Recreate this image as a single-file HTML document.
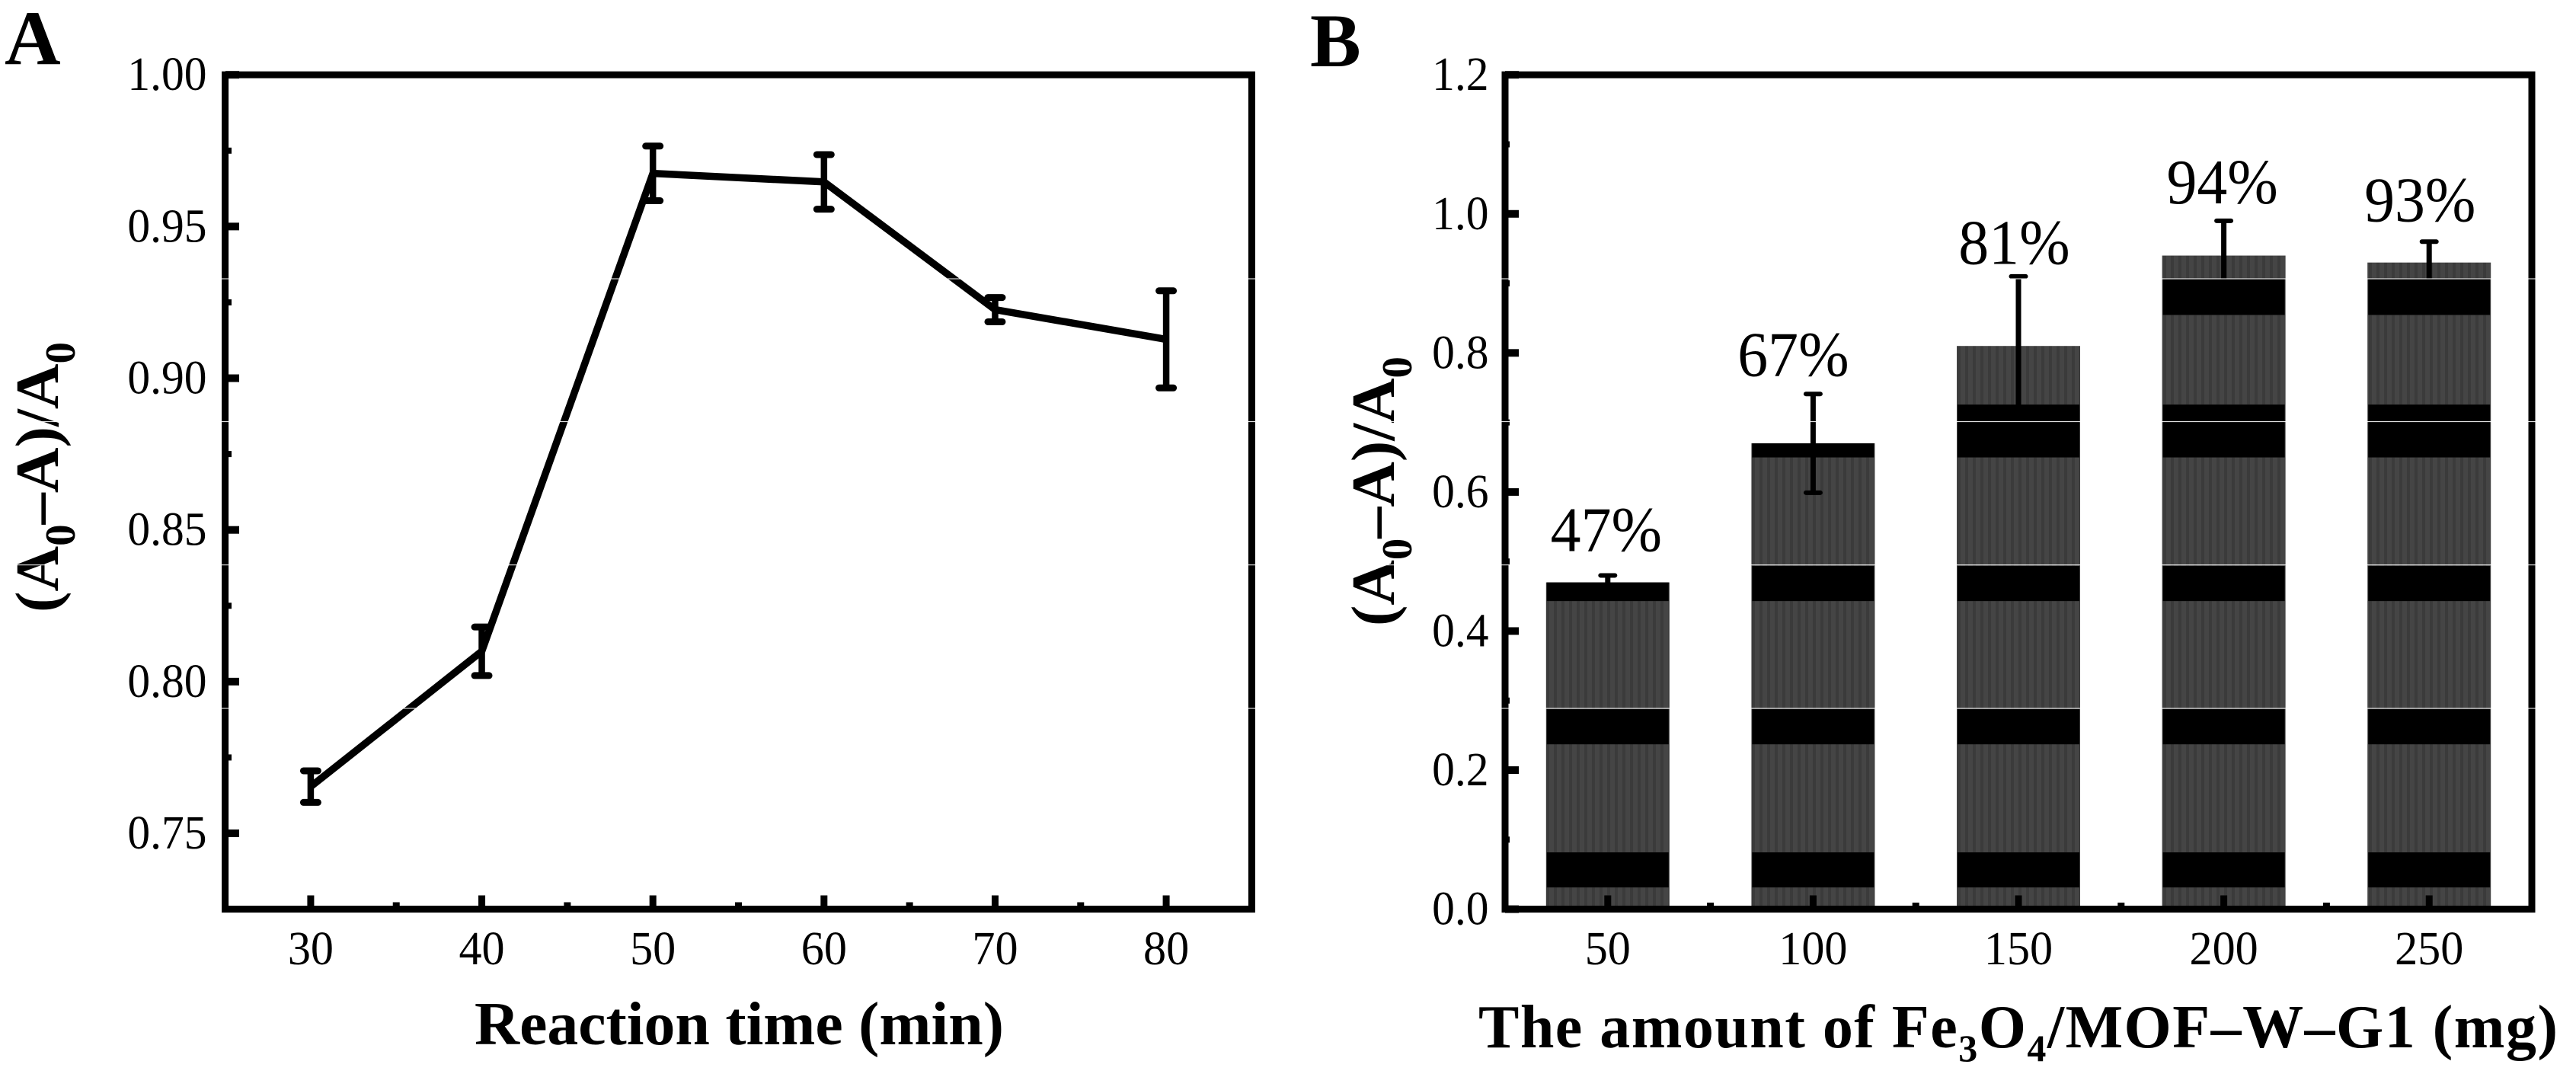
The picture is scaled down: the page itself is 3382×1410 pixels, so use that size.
<!DOCTYPE html>
<html lang="en">
<head>
<meta charset="utf-8">
<title>Reaction time and adsorbent amount charts</title>
<style>
html,body{margin:0;padding:0;background:#fff;width:3382px;height:1410px;overflow:hidden}
svg{display:block;position:absolute;left:0;top:0}
text{font-family:"Liberation Serif",serif;fill:#000}
.b{font-weight:bold}
</style>
</head>
<body>
<svg id="fig" xmlns="http://www.w3.org/2000/svg" width="3382" height="1410" viewBox="0 0 3382 1410">
  <defs>
    <pattern id="stripes" patternUnits="userSpaceOnUse" width="10" height="10">
      <rect width="10" height="10" fill="#454545"></rect>
      <rect x="0" width="4" height="10" fill="#3b3b3b"></rect>
    </pattern>
  </defs>
  <rect width="3382" height="1410" fill="#fff"></rect>
  <g id="bars-layer"></g>
  <g id="marks-layer"></g>
  <rect x="295.6" y="98.2" width="1347.8" height="1095.4" fill="none" stroke="#000" stroke-width="9"></rect>
  <rect x="1976" y="98.2" width="1348" height="1095.4" fill="none" stroke="#000" stroke-width="9"></rect>
  <g id="ticks-layer"></g>

  <text class="b" x="6" y="84" font-size="102">A</text>
  <text class="b" x="1720" y="87" font-size="100">B</text>

  <text class="b" x="623" y="1371" font-size="81" textLength="695" lengthAdjust="spacingAndGlyphs">Reaction time (min)</text>
  <text class="b" transform="translate(76,804) rotate(-90)" font-size="81" textLength="355" lengthAdjust="spacingAndGlyphs">(A<tspan font-size="56" dy="22">0</tspan><tspan dy="-22">–A)/A</tspan><tspan font-size="56" dy="22">0</tspan></text>

  <text class="b" x="1941" y="1375" font-size="80" textLength="1417" lengthAdjust="spacing">The amount of Fe<tspan font-size="50" dy="18">3</tspan><tspan dy="-18">O</tspan><tspan font-size="50" dy="18">4</tspan><tspan dy="-18">/MOF–W–G1 (mg)</tspan></text>
  <text class="b" transform="translate(1830,822) rotate(-90)" font-size="81" textLength="354" lengthAdjust="spacingAndGlyphs">(A<tspan font-size="56" dy="23">0</tspan><tspan dy="-23">–A)/A</tspan><tspan font-size="56" dy="23">0</tspan></text>
  <g id="labels-layer"></g>
  <g id="seams-layer"></g>
</svg>
<script>
// Panel A data
var timeCategories = [30, 40, 50, 60, 70, 80];
var timeValues = [0.7654, 0.810, 0.9675, 0.9647, 0.9226, 0.9128];
var timeErrors = [0.0052, 0.008, 0.009, 0.009, 0.004, 0.016];
var timeXTicks = ['30', '40', '50', '60', '70', '80'];
var timeXMinor = [35, 45, 55, 65, 75];
var timeYTicks = ['0.75', '0.80', '0.85', '0.90', '0.95', '1.00'];
var timeYMinor = [0.775, 0.825, 0.875, 0.925, 0.975];

// Panel B data
var amountCategories = [50, 100, 150, 200, 250];
var amountValues = [0.47, 0.67, 0.81, 0.94, 0.93];
var amountErrors = [0.01, 0.071, 0.10, 0.05, 0.03];
var amountLabels = ['47%', '67%', '81%', '94%', '93%'];
var amountXMinor = [75, 125, 175, 225];
var amountYTicks = ['0.0', '0.2', '0.4', '0.6', '0.8', '1.0', '1.2'];
var amountYMinor = [0.1, 0.3, 0.5, 0.7, 0.9, 1.1];
var bandStarts = [0.0313, 0.2371, 0.4431, 0.6497, 0.8546];
var bandEnds = [0.0817, 0.2876, 0.4935, 0.7257, 0.906];

// Layout only (label nudges in pixels, seam rows in pixels)
var percentNudgeX = [-2, -26, -5.6, -2, -12];
var percentGap = [32, 23.5, 16.5, 23, 27];
var seamRows = [366, 553.6, 741.7, 930];

var NS = 'http://www.w3.org/2000/svg';
function xA(v) { return 295.6 + (v - 25) / 60 * 1347.8; }
function yA(v) { return 98.2 + (1 - v) / 0.275 * 1095.4; }
function xB(v) { return 1976 + (v - 25) / 250 * 1348; }
function yB(v) { return 1193.6 - v / 1.2 * 1095.4; }

function make(tag, parent, attrs) {
  var el = document.createElementNS(NS, tag);
  for (var k in attrs) { el.setAttribute(k, attrs[k]); }
  parent.appendChild(el);
  return el;
}
function centeredRect(parent, cx, top, w, h, fill, rx) {
  return make('rect', parent, { x: cx - w / 2, y: top, width: w, height: h, fill: fill, rx: rx || 0 });
}
function write(parent, str, x, y, anchor, size, sx) {
  var el = make('text', parent, {
    transform: 'translate(' + x + ',' + y + ') scale(' + sx + ',1)',
    'text-anchor': anchor,
    'font-size': size
  });
  el.textContent = str;
  return el;
}

var barsLayer = document.getElementById('bars-layer');
var marksLayer = document.getElementById('marks-layer');
var ticksLayer = document.getElementById('ticks-layer');
var labelsLayer = document.getElementById('labels-layer');
var seamsLayer = document.getElementById('seams-layer');

// Panel A line
var linePoints = timeCategories.map(function (c, i) { return xA(c) + ',' + yA(timeValues[i]); }).join(' ');
var seriesLine = make('polyline', marksLayer, { points: linePoints, fill: 'none', stroke: '#000', 'stroke-width': 9.5, 'stroke-linejoin': 'miter' });



// Panel A error bars
timeCategories.forEach(function (c, i) {
  var top = yA(timeValues[i] + timeErrors[i]);
  var bottom = yA(timeValues[i] - timeErrors[i]);
  var stem = centeredRect(marksLayer, xA(c), top, 8.5, bottom - top, '#000');
  
  
  var capTop = centeredRect(marksLayer, xA(c), top - 4.5, 28, 9, '#000', 4.5);
  
  
  var capBottom = centeredRect(marksLayer, xA(c), bottom - 4.5, 28, 9, '#000', 4.5);
  
  
});

// Panel B bars and bands
amountCategories.forEach(function (c, i) {
  var cx = xB(c);
  var top = yB(amountValues[i]);
  var bar = centeredRect(barsLayer, cx, top, 162, 1193.6 - top, 'url(#stripes)');
  
  
  bandStarts.forEach(function (start, j) {
    var end = Math.min(bandEnds[j], amountValues[i]);
    if (end <= start) { return; }
    var band = centeredRect(barsLayer, cx, yB(end), 160, yB(start) - yB(end), '#000');
    
    
  });
  var eTop = yB(amountValues[i] + amountErrors[i]);
  var eBottom = yB(amountValues[i] - amountErrors[i]);
  var stem = centeredRect(marksLayer, cx, eTop, 7, eBottom - eTop, '#000');
  
  
  var capTop = centeredRect(marksLayer, cx, eTop - 3, 25, 6, '#000', 3);
  
  
  var capBottom = centeredRect(marksLayer, cx, eBottom - 3, 25, 6, '#000', 3);
  
  
  var pct = write(labelsLayer, amountLabels[i], cx + percentNudgeX[i], eTop - percentGap[i], 'middle', 84, 0.95);
  
  
});

// Panel A ticks
timeXTicks.forEach(function (t) {
  var tick = centeredRect(ticksLayer, xA(+t), 1175.5, 9, 15, '#000');
  
  
  var lab = write(labelsLayer, t, xA(+t), 1266, 'middle', 62, 0.97);
  
  
});
timeXMinor.forEach(function (v) {
  var tick = centeredRect(ticksLayer, xA(v), 1184.5, 9, 6, '#000');
  
  
});
timeYTicks.forEach(function (t) {
  var y = yA(+t);
  var tick = make('rect', ticksLayer, { x: 296, y: y - 5, width: 18, height: 10, fill: '#000' });
  
  
  var lab = write(labelsLayer, t, 271.5, y + 20, 'end', 62, 0.96);
  
  
});
timeYMinor.forEach(function (v) {
  var tick = make('rect', ticksLayer, { x: 296, y: yA(v) - 4, width: 8, height: 8, fill: '#000' });
  
  
});

// Panel B ticks
amountCategories.forEach(function (c) {
  var tick = centeredRect(ticksLayer, xB(c), 1175.5, 9, 15, '#000');
  
  
  var lab = write(labelsLayer, String(c), xB(c), 1266, 'middle', 62, 0.97);
  
  
});
amountXMinor.forEach(function (v) {
  var tick = centeredRect(ticksLayer, xB(v), 1185, 9, 6, '#000');
  
  
});
amountYTicks.forEach(function (t) {
  var y = yB(+t);
  var tick = make('rect', ticksLayer, { x: 1976, y: y - 5, width: 18, height: 10, fill: '#000' });
  
  
  var lab = write(labelsLayer, t, 1954.5, y + 20, 'end', 62, 0.96);
  
  
});
amountYMinor.forEach(function (v) {
  var tick = make('rect', ticksLayer, { x: 1976, y: yB(v) - 4, width: 6, height: 8, fill: '#000' });
  
  
});

// Thin white seams visible in the reference image
seamRows.forEach(function (y) {
  var seam = make('rect', seamsLayer, { x: 0, y: y - 0.5, width: 3382, height: 1, fill: '#fff' });
  
  
});
</script>
</body>
</html>
